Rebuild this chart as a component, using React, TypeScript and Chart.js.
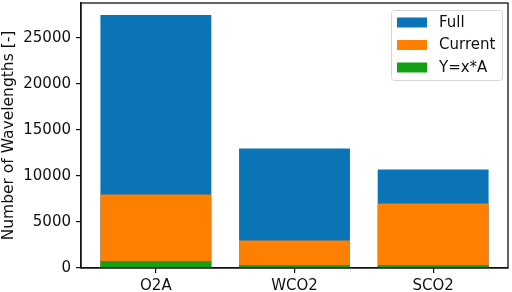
import React, { useEffect, useRef } from "react";
import { Chart, registerables } from "chart.js";

Chart.register(...registerables);

const categories = ["O2A", "WCO2", "SCO2"];
const fullValues = [27500, 13000, 10700];
const currentValues = [8000, 3000, 7000];
const yxaValues = [760, 320, 320];
const yTicks = [0, 5000, 10000, 15000, 20000, 25000];
const seriesNames = ["Full", "Current", "Y=x*A"];
const seriesColors = ["#0a74b6", "#ff8000", "#14a014"];

const FONT = "'DejaVu Sans', 'Liberation Sans', sans-serif";

const frameAndLegend = {
  id: "frameAndLegend",
  afterDraw(chart: any) {
    const { ctx, chartArea } = chart;
    ctx.save();
    ctx.strokeStyle = "#111";
    ctx.lineWidth = 1.3;
    ctx.strokeRect(chartArea.left, chartArea.top, chartArea.right - chartArea.left, chartArea.bottom - chartArea.top);
    // legend
    const bx = chartArea.right - 117;
    const by = chartArea.top + 7;
    const bw = 111;
    const bh = 70;
    ctx.fillStyle = "rgba(255,255,255,0.8)";
    ctx.strokeStyle = "#d6d6d6";
    ctx.lineWidth = 1;
    ctx.beginPath();
    (ctx as any).roundRect(bx + 0.5, by + 0.5, bw, bh, 3);
    ctx.fill();
    ctx.stroke();
    ctx.font = `15px ${FONT}`;
    ctx.textBaseline = "middle";
    ctx.textAlign = "left";
    seriesNames.forEach((name, i) => {
      const cy = by + 12.5 + i * 22.5;
      ctx.fillStyle = seriesColors[i];
      ctx.fillRect(bx + 6, cy - 5, 30, 10);
      ctx.fillStyle = "#111";
      ctx.fillText(name, bx + 48, cy + 0.5);
    });
    ctx.restore();
  },
};

export default function App() {
  const ref = useRef<HTMLCanvasElement | null>(null);
  useEffect(() => {
    if (!ref.current) return;
    const mk = (vals: number[]) => vals.map((v, i) => ({ x: i, y: v }));
    const common = { grouped: false, barPercentage: 0.8, categoryPercentage: 1, borderWidth: 0 };
    const chart = new Chart(ref.current, {
      type: "bar",
      data: {
        datasets: [
          { label: seriesNames[0], data: mk(fullValues), backgroundColor: seriesColors[0], order: 3, ...common } as any,
          { label: seriesNames[1], data: mk(currentValues), backgroundColor: seriesColors[1], order: 2, ...common } as any,
          { label: seriesNames[2], data: mk(yxaValues), backgroundColor: seriesColors[2], order: 1, ...common } as any,
        ],
      },
      options: {
        animation: false,
        responsive: false,
        maintainAspectRatio: false,
        layout: { padding: { left: 0, top: 3, right: 4, bottom: 0 } },
        plugins: { legend: { display: false }, tooltip: { enabled: false } },
        scales: {
          x: {
            type: "linear",
            min: -0.54,
            max: 2.54,
            offset: false,
            afterBuildTicks: (s: any) => {
              s.ticks = categories.map((_, i) => ({ value: i }));
            },
            afterFit: (s: any) => {
              s.height = 24;
              s.paddingLeft = 0;
              s.paddingRight = 0;
            },
            ticks: {
              callback: (v: any) => categories[Math.round(Number(v))] ?? "",
              color: "#111",
              font: { family: FONT, size: 15 },
              padding: 4,
              maxRotation: 0,
              autoSkip: false,
            },
            grid: { offset: false, drawOnChartArea: false, drawTicks: true, tickLength: 5, color: "#111", lineWidth: 1.2 },
            border: { display: true, color: "#111", width: 1.3 },
          },
          y: {
            type: "linear",
            min: 0,
            max: 28800,
            afterBuildTicks: (s: any) => {
              s.ticks = yTicks.map((v) => ({ value: v }));
            },
            afterFit: (s: any) => {
              s.width = 81;
              s.paddingTop = 0;
              s.paddingBottom = 0;
            },
            ticks: {
              color: "#111",
              font: { family: FONT, size: 15 },
              padding: 5,
              callback: (v: any) => String(v),
            },
            grid: { offset: false, drawOnChartArea: false, drawTicks: true, tickLength: 5, color: "#111", lineWidth: 1.2 },
            border: { display: true, color: "#111", width: 1.3 },
            title: {
              display: true,
              text: "Number of Wavelengths [-]",
              color: "#111",
              font: { family: FONT, size: 15.5 },
              padding: { top: 0, bottom: 0 },
            },
          },
        },
      },
      plugins: [frameAndLegend],
    } as any);
    return () => chart.destroy();
  }, []);
  return (
    <div style={{ position: "fixed", left: 0, top: 0, width: 512, height: 292, background: "#fff" }}>
      <canvas ref={ref} width={512} height={292} style={{ width: 512, height: 292, display: "block" }} />
    </div>
  );
}
